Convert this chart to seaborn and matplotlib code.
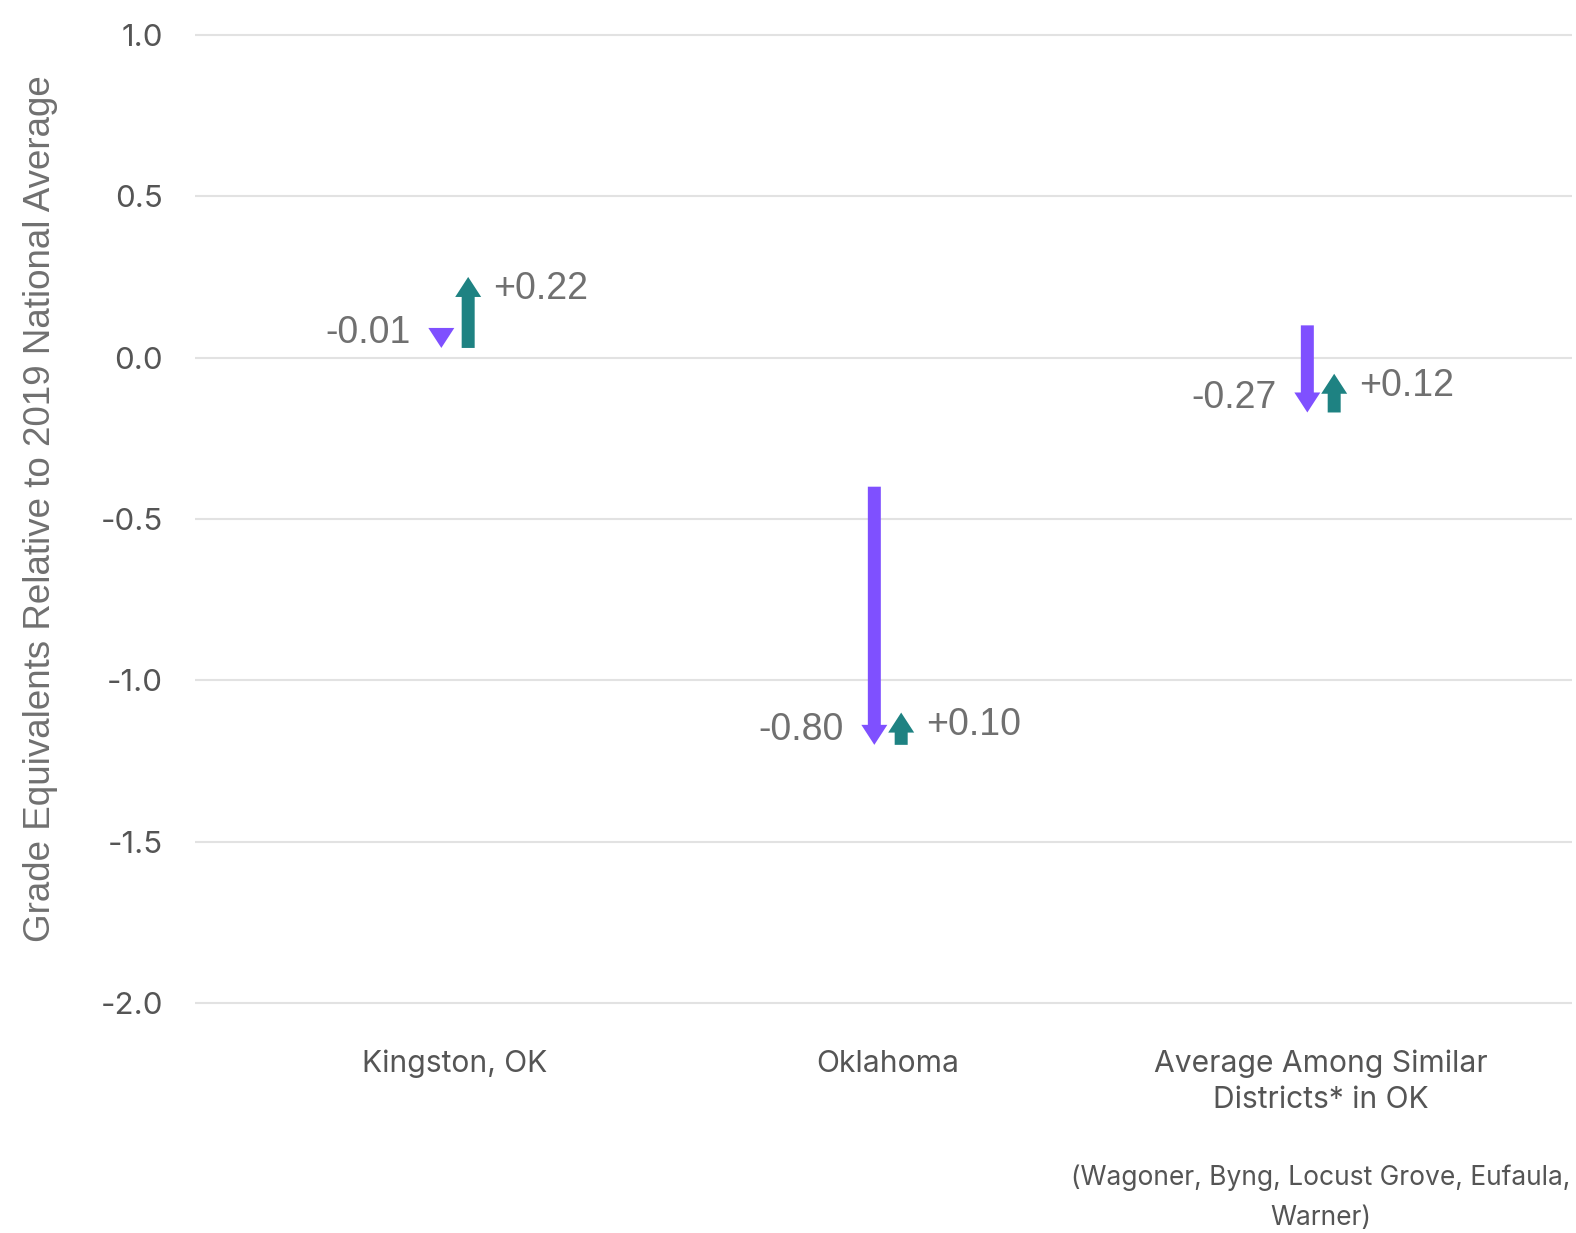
import numpy as np
import pandas as pd
import matplotlib
matplotlib.use("Agg")
import matplotlib.pyplot as plt
import seaborn as sns

# data
categories = ["Kingston, OK", "Oklahoma", "Average Among Similar\nDistricts* in OK"]
start_2019 = [0.04, -0.40, 0.10]
decline = [-0.01, -0.80, -0.27]
recovery = [0.22, 0.10, 0.12]
yticks = [1.0, 0.5, 0.0, -0.5, -1.0, -1.5, -2.0]
note = "(Wagoner, Byng, Locust Grove, Eufaula,\nWarner)"

df = pd.DataFrame({"category": categories, "start": start_2019,
                   "decline": decline, "recovery": recovery})
df["end_2022"] = df["start"] + df["decline"]
df["end_2023"] = df["end_2022"] + df["recovery"]

purple = "#7F50FF"
teal = "#1E8282"
label_gray = "#707070"
tick_gray = "#555555"

sns.set_style("whitegrid", {"grid.color": "#e2e2e2", "axes.edgecolor": "white"})

fig = plt.figure(figsize=(15.76, 12.33), dpi=100)
ax = fig.add_axes([0.1237, 0.1813, 0.8737, 0.7956])

shaft_w = 0.030
head_w = 0.060
head_len = 0.062
offset = 0.031


def draw_arrow(ax, x, y0, y1, color):
    # keep the head full size even when the change is tiny
    d = y1 - y0
    sign = np.sign(d)
    if abs(d) < head_len:
        y0 = y1 - sign * head_len
        d = y1 - y0
    ax.arrow(x, y0, 0, d, width=shaft_w, head_width=head_w, head_length=head_len,
             length_includes_head=True, color=color, lw=0, zorder=3)


for i, row in df.iterrows():
    xp = i - offset
    xt = i + offset
    draw_arrow(ax, xp, row["start"], row["end_2022"], purple)
    draw_arrow(ax, xt, row["end_2022"], row["end_2023"], teal)
    ax.text(xp - 0.070, row["end_2022"] + 0.045, f"{row['decline']:.2f}",
            ha="right", va="center", fontsize=27, color=label_gray,
            family="Liberation Sans")
    ax.text(xt + 0.058, row["end_2023"] - 0.038, f"+{row['recovery']:.2f}",
            ha="left", va="center", fontsize=27, color=label_gray,
            family="Liberation Sans")

ax.set_xlim(-0.6, 2.58)
ax.set_ylim(-2.02, 1.02)
ax.set_xticks(range(len(categories)))
ax.set_xticklabels(categories, fontsize=21.6, color=tick_gray, family="Inter",
                   linespacing=1.36)
ax.set_yticks(yticks)
ax.set_yticklabels([f"{v:.1f}" for v in yticks], fontsize=22.5, color=tick_gray,
                   family="Inter")
ax.tick_params(axis="both", length=0)
ax.tick_params(axis="x", pad=29)
ax.tick_params(axis="y", pad=23)
ax.grid(axis="x", visible=False)
ax.grid(axis="y", linewidth=1.5)
for s in ax.spines.values():
    s.set_visible(False)

ax.set_ylabel("Grade Equivalents Relative to 2019 National Average",
              fontsize=26.5, color=label_gray, family="Liberation Sans")
ax.yaxis.set_label_coords(-0.0995, 0.511)

ax.text(2.0, -2.605, note, ha="center", va="center", fontsize=19,
        color=tick_gray, family="Inter", linespacing=1.7, clip_on=False)

fig.savefig("out.png", dpi=100)
